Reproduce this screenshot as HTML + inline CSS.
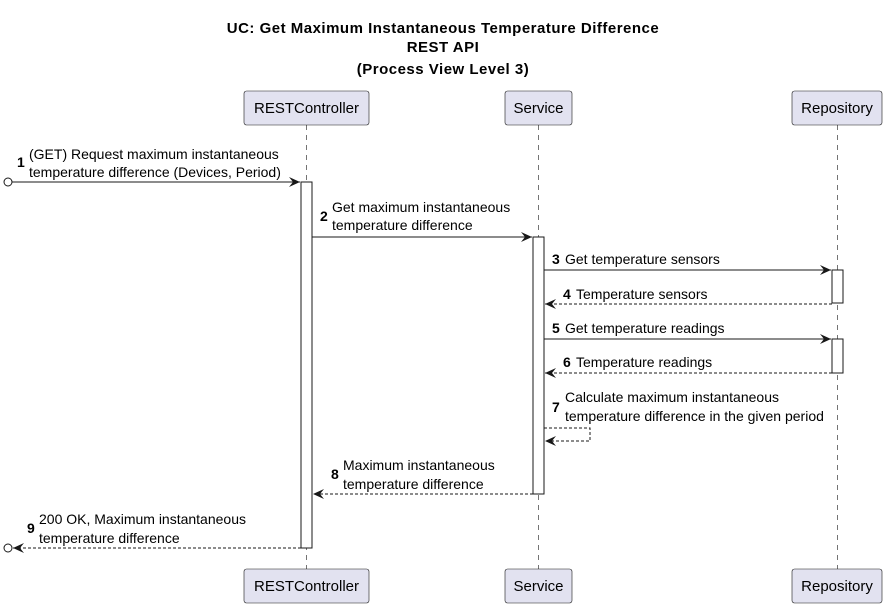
<!DOCTYPE html>
<html><head><meta charset="utf-8"><style>
html,body{margin:0;padding:0;background:#fff}
svg{display:block}
text{font-family:"Liberation Sans",Arial,sans-serif;fill:#000}
.t{font-size:14px}
.n{font-size:14px;font-weight:bold}
.h{font-size:15px;font-weight:bold;letter-spacing:0.5px}
.p{font-size:15px}
</style></head><body>
<svg width="887" height="608" viewBox="0 0 887 608" xmlns="http://www.w3.org/2000/svg">
<defs>
<marker id="a" markerWidth="12" markerHeight="10" refX="11" refY="5" orient="auto" markerUnits="userSpaceOnUse">
<path d="M0,0 L11,5 L0,10 L4,5 Z" fill="#181818"/>
</marker>
</defs>
<text class="h" x="443" y="33" text-anchor="middle">UC: Get Maximum Instantaneous Temperature Difference</text>
<text class="h" x="443" y="52" text-anchor="middle">REST API</text>
<text class="h" x="443" y="74" text-anchor="middle">(Process View Level 3)</text>

<g stroke="#181818" stroke-width="0.6" stroke-dasharray="5,5">
<line x1="306.5" y1="125" x2="306.5" y2="569"/>
<line x1="538.5" y1="125" x2="538.5" y2="569"/>
<line x1="837.5" y1="125" x2="837.5" y2="569"/>
</g>

<g fill="#E2E2F0" stroke="#181818" stroke-width="0.6">
<rect x="244" y="91" width="125" height="34" rx="2.5"/>
<rect x="505" y="91" width="67" height="34" rx="2.5"/>
<rect x="792" y="91" width="90" height="34" rx="2.5"/>
<rect x="244" y="569" width="125" height="34" rx="2.5"/>
<rect x="505" y="569" width="67" height="34" rx="2.5"/>
<rect x="792" y="569" width="90" height="34" rx="2.5"/>
</g>
<text class="p" x="306.5" y="113" text-anchor="middle">RESTController</text>
<text class="p" x="538.5" y="113" text-anchor="middle">Service</text>
<text class="p" x="837" y="113" text-anchor="middle">Repository</text>
<text class="p" x="306.5" y="591" text-anchor="middle">RESTController</text>
<text class="p" x="538.5" y="591" text-anchor="middle">Service</text>
<text class="p" x="837" y="591" text-anchor="middle">Repository</text>

<g fill="#fff" stroke="#181818" stroke-width="1">
<rect x="301" y="182" width="11" height="366"/>
<rect x="533" y="237" width="11" height="257"/>
<rect x="832" y="270" width="11" height="33"/>
<rect x="832" y="339" width="11" height="34"/>
</g>

<g stroke="#181818" stroke-width="1" fill="none">
<circle cx="8" cy="182" r="4"/>
<line x1="12" y1="182" x2="300" y2="182" marker-end="url(#a)"/>
<line x1="312" y1="237" x2="532" y2="237" marker-end="url(#a)"/>
<line x1="544" y1="270" x2="831" y2="270" marker-end="url(#a)"/>
<line x1="832" y1="304" x2="545" y2="304" stroke-dasharray="3,2" marker-end="url(#a)"/>
<line x1="544" y1="339" x2="831" y2="339" marker-end="url(#a)"/>
<line x1="832" y1="373" x2="545" y2="373" stroke-dasharray="3,2" marker-end="url(#a)"/>
<polyline points="544,428 590,428 590,441 545,441" stroke-dasharray="3,2" marker-end="url(#a)"/>
<line x1="533" y1="494" x2="313" y2="494" stroke-dasharray="3,2" marker-end="url(#a)"/>
<line x1="301" y1="548" x2="13" y2="548" stroke-dasharray="3,2" marker-end="url(#a)"/>
<circle cx="8" cy="548" r="4"/>
</g>

<text class="n" x="17" y="167">1</text>
<text class="t" x="29" y="159">(GET) Request maximum instantaneous</text>
<text class="t" x="29" y="177">temperature difference (Devices, Period)</text>

<text class="n" x="320" y="221">2</text>
<text class="t" x="332" y="212">Get maximum instantaneous</text>
<text class="t" x="332" y="230">temperature difference</text>

<text class="n" x="552" y="264">3</text>
<text class="t" x="565" y="264">Get temperature sensors</text>
<text class="n" x="563" y="299">4</text>
<text class="t" x="576" y="299">Temperature sensors</text>
<text class="n" x="552" y="333">5</text>
<text class="t" x="565" y="333">Get temperature readings</text>
<text class="n" x="563" y="367">6</text>
<text class="t" x="576" y="367">Temperature readings</text>

<text class="n" x="552" y="412">7</text>
<text class="t" x="565" y="402">Calculate maximum instantaneous</text>
<text class="t" x="565" y="421">temperature difference in the given period</text>

<text class="n" x="331" y="479">8</text>
<text class="t" x="343" y="470">Maximum instantaneous</text>
<text class="t" x="343" y="489">temperature difference</text>

<text class="n" x="27" y="533">9</text>
<text class="t" x="39" y="524">200 OK, Maximum instantaneous</text>
<text class="t" x="39" y="543">temperature difference</text>
</svg>
</body></html>
